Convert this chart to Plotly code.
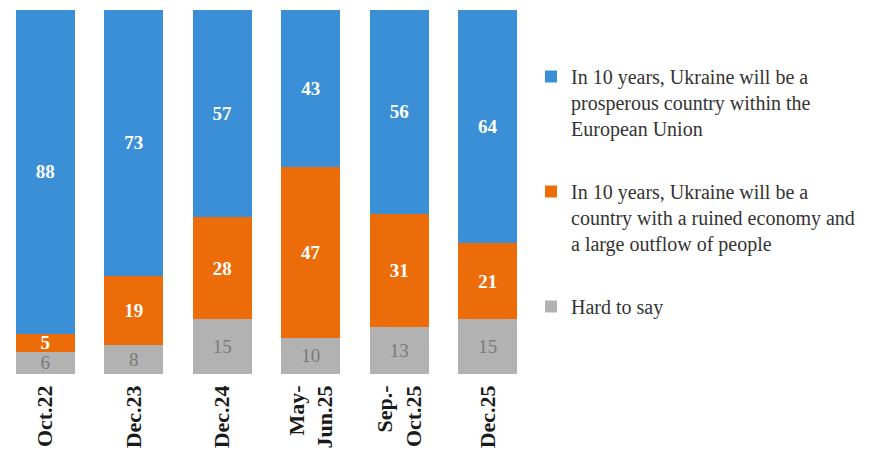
import plotly.graph_objects as go

categories = ["Oct.22", "Dec.23", "Dec.24", "May-<br>Jun.25", "Sep.-<br>Oct.25", "Dec.25"]
prosperous = [88, 73, 57, 43, 56, 64]
ruined = [5, 19, 28, 47, 31, 21]
hard_to_say = [6, 8, 15, 10, 13, 15]

names = [
    "In 10 years, Ukraine will be a<br>prosperous country within the<br>European Union",
    "In 10 years, Ukraine will be a<br>country with a ruined economy and<br>a large outflow of people",
    "Hard to say",
]
colors = ["#3A8FD6", "#EC6C0A", "#B2B2B2"]
FONT = "Liberation Serif, Times New Roman, serif"

fig = go.Figure()
series = [hard_to_say, ruined, prosperous]
scolors = [colors[2], colors[1], colors[0]]
tcolors = ["#7A7A7A", "white", "white"]
bolds = ["normal", "bold", "bold"]
for vals, c, tc, w in zip(series, scolors, tcolors, bolds):
    fig.add_trace(go.Bar(
        x=categories, y=vals, marker=dict(color=c, line=dict(width=0)),
        text=[str(v) for v in vals], textposition="inside", insidetextanchor="middle",
        textangle=0,
        textfont=dict(family=FONT, size=19, color=tc, weight=w),
        constraintext="none", showlegend=False, hoverinfo="skip",
    ))

for i, (n, c) in enumerate(zip(names, colors)):
    fig.add_trace(go.Scatter(
        x=[None], y=[None], mode="markers", name=n, legendgroup=f"g{i}",
        marker=dict(symbol="square", size=8, color=c),
    ))

fig.update_layout(
    barmode="stack", barnorm="percent", bargap=0.333,
    width=886, height=451,
    margin=dict(l=1, r=354, t=10, b=77, autoexpand=False),
    paper_bgcolor="white", plot_bgcolor="white",
    uniformtext=dict(mode=False),
    xaxis=dict(tickangle=-90, tickfont=dict(family=FONT, size=22, color="#1a1a1a", weight="bold"),
               showline=False, ticks="", showgrid=False, range=[-0.5, 5.5],
               automargin=False, ticklabelstandoff=6),
    yaxis=dict(visible=False, range=[0, 100]),
    legend=dict(xref="container", yref="container", x=531 / 886, y=1 - 57 / 451,
                xanchor="left", yanchor="top", valign="top",
                font=dict(family=FONT, size=20, color="#333333"),
                tracegroupgap=34, itemsizing="constant", maxheight=420),
)
fig.write_html("out.html", config={"displayModeBar": False},
               post_script="document.body.style.margin='0';")
